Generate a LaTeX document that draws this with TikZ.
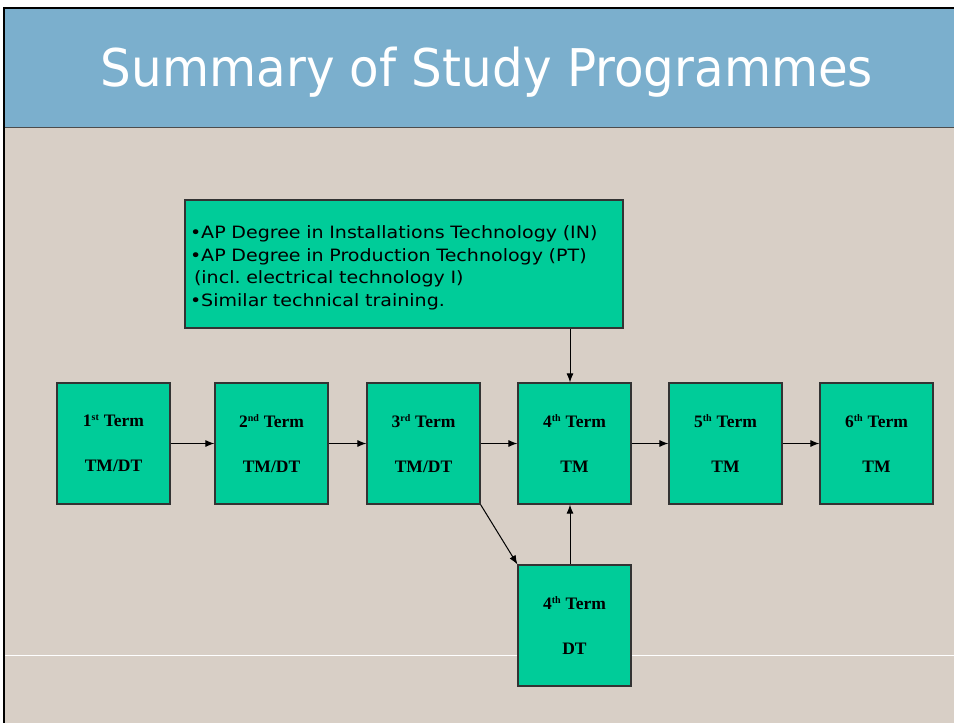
\documentclass[tikz,border=0pt]{standalone}
\usepackage{fontspec}
\usepackage{graphicx}
\setmainfont{Liberation Serif}
\newfontfamily\verdana{DejaVu Sans}
\newfontfamily\verdanawide[FakeStretch=1.12]{DejaVu Sans}
\usetikzlibrary{arrows.meta}
\usetikzlibrary{positioning}
\definecolor{titleblue}{HTML}{7BAFCD}
\definecolor{slidebg}{HTML}{D8CFC6}
\definecolor{boxgreen}{HTML}{00CC99}
\newcommand{\ord}[1]{\textsuperscript{\fontsize{10}{10}\selectfont #1}}

\tikzset{
	term/.style={draw=black!80, line width=1.2pt, fill=boxgreen, minimum width=113pt, minimum height=121pt, inner sep=0pt, align=center, font=\bfseries\fontsize{17.5}{45}\selectfont},
	prior/.style={draw=black!80, line width=1.2pt, fill=boxgreen, minimum width=438pt, minimum height=128pt},
	priortext/.style={text width=428pt, inner sep=0pt, align=left, font=\verdanawide\fontsize{17}{22.5}\selectfont},
	flow/.style={-{Latex[length=9pt,width=7pt]}, line width=1pt},
}

\begin{document}
\begin{tikzpicture}[x=1pt,y=-1pt]
		\useasboundingbox (0,0) rectangle (954,723);
		\fill[white] (0,0) rectangle (954,723);
		\fill[slidebg] (5,127) rectangle (954,723);
		\fill[titleblue] (5,9) rectangle (954,127);
		\draw[black!70, line width=1.5pt] (5,127.5) -- (954,127.5);
		\draw[black, line width=2pt] (4,723) -- (4,8) -- (954,8);
		\draw[white, line width=1pt] (5,655) -- (954,655);
		\node[white, anchor=base, inner sep=0pt, font=\verdana\fontsize{52}{56}\selectfont] (title) at (487,86) {\scalebox{0.93}[1]{Summary of Study Programmes}};
		
		\node[prior] (entry) at (404,264) {};
		\node[priortext] (entrytext) at ([yshift=-4pt]entry.center) {\frenchspacing\textbullet AP Degree in Installations Technology (IN)\\\textbullet AP Degree in Production Technology (PT)\\\hspace*{4pt}(incl. electrical technology I)\\\textbullet Similar technical training.};
		
		\node[term] (t1) at (113.5,443.5) {1\ord{st} Term\\TM/DT};
		\node[term] (t2) at (271.5,443.5) {2\ord{nd} Term\\TM/DT};
		\node[term] (t3) at (423.5,443.5) {3\ord{rd} Term\\TM/DT};
		\node[term] (t4) at (574.5,443.5) {4\ord{th} Term\\TM};
		\node[term] (t5) at (725.5,443.5) {5\ord{th} Term\\TM};
		\node[term] (t6) at (876.5,443.5) {6\ord{th} Term\\TM};
		\node[term] (t4dt) at (574.5,625.5) {4\ord{th} Term\\DT};
		
		\draw [flow] (t1) -- (t2);
		\draw [flow] (t2) -- (t3);
		\draw [flow] (t3) -- (t4);
		\draw [flow] (t4) -- (t5);
		\draw [flow] (t5) -- (t6);
		\draw [flow] ([xshift=-4.5pt]entry.south -| t4.north) -- ([xshift=-4.5pt]t4.north);
		\draw [flow] (t3.south east) -- (t4dt.north west);
		\draw [flow] ([xshift=-4.5pt]t4dt.north) -- ([xshift=-4.5pt]t4.south);
	\end{tikzpicture}
\end{document}
